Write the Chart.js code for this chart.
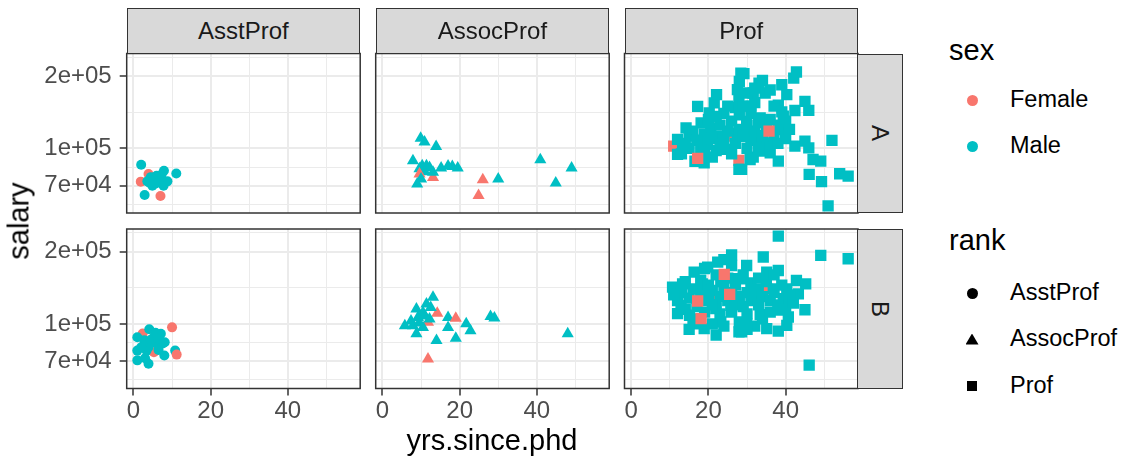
<!DOCTYPE html>
<html>
<head>
<meta charset="utf-8">
<script src="https://cdn.jsdelivr.net/npm/chart.js@4.4.1/dist/chart.umd.min.js"></script>
<style>
  body { margin: 0; background: #fff; font-family: "Liberation Sans", Arial, sans-serif; }
  #page { position: relative; width: 1122px; height: 458px; overflow: hidden; background: #fff; }
  canvas { position: absolute; }
  .strip { position: absolute; box-sizing: border-box; background: #D9D9D9; border: 1.5px solid #333;
           color: #1A1A1A; font-size: 24px; display: flex; align-items: center; justify-content: center; }
  .strip.side span { display: inline-block; transform: rotate(90deg); }
  .txt { position: absolute; white-space: nowrap; color: #000; }
  .key { position: absolute; }
</style>
</head>
<body>
<div id="page"></div>
<script>
// categories
const ranks = ['AsstProf', 'AssocProf', 'Prof'];
const disciplines = ['A', 'B'];
const sexes = ['Female', 'Male'];

// tick breaks and labels
const xMajor = [0, 20, 40];
const xMinor = [10, 30, 50];
const xLabels = ['0', '20', '40'];
const yMajor = [70000, 100000, 200000];
const yLabels = ['7e+04', '1e+05', '2e+05'];

// points: [yrs.since.phd, salary, sex]  (drawn in this order)
const asstA = [
  [1.9, 72800, 'F'], [3.9, 78300, 'F'],
  [2, 85500, 'M'], [2.9, 64100, 'M'], [4.9, 70000, 'M'], [3.6, 73000, 'M'], [5.3, 74500, 'M'],
  [6, 77000, 'M'], [7.8, 70000, 'M'], [8.8, 73000, 'M'], [7.9, 80800, 'M'], [11.1, 78700, 'M'],
  [4.5, 76000, 'M'], [6.8, 75500, 'M'], [5.8, 71500, 'M'], [7.3, 78000, 'M'], [4.2, 72000, 'M'],
  [7, 63500, 'F']
];
const asstB = [
  [2.4, 91200, 'F'], [5.3, 76300, 'F'],
  [1, 88000, 'M'], [4.1, 95000, 'M'], [7.1, 91000, 'M'], [8.1, 84000, 'M'], [1, 77500, 'M'],
  [1, 70600, 'M'], [3.9, 68300, 'M'], [8, 74000, 'M'], [10.8, 77500, 'M'], [3.4, 77500, 'M'],
  [5.3, 88000, 'M'], [6, 83000, 'M'], [5.4, 84000, 'M'], [3.9, 80000, 'M'], [2.8, 85500, 'M'],
  [7.6, 83000, 'M'], [5.7, 92000, 'M'], [4.5, 86000, 'M'], [6.5, 87000, 'M'], [2, 80000, 'M'],
  [3, 72000, 'M'], [6.5, 78000, 'M'],
  [10, 96800, 'F'], [11.2, 74600, 'F']
];
const assocA = [
  [9.9, 110400, 'M'], [10.9, 106500, 'M'], [13.9, 102000, 'M'], [7.9, 88900, 'M'], [10.3, 84700, 'M'],
  [11.4, 84700, 'M'], [12.2, 83400, 'M'], [15.2, 82900, 'M'], [18.1, 84200, 'M'], [19.5, 82900, 'M'],
  [9.6, 82400, 'M'], [17, 84500, 'M'], [11, 80000, 'M'],
  [9.6, 78300, 'F'], [13.1, 75800, 'F'],
  [13.1, 79600, 'M'], [10, 74600, 'M'], [9, 71100, 'M'], [30, 74600, 'M'], [40.9, 89700, 'M'],
  [49, 83000, 'M'], [44.9, 71800, 'M'],
  [26, 74100, 'F'], [24.9, 63700, 'F']
];
const assocB = [
  [14.2, 110700, 'F'], [11.8, 101600, 'F'],
  [13.1, 129000, 'M'], [11.4, 121000, 'M'], [8.8, 115400, 'M'], [10.5, 111700, 'M'], [17, 106500, 'M'],
  [9.2, 106500, 'M'], [12.2, 104800, 'M'], [5.8, 98400, 'M'], [7.9, 98400, 'M'], [10.5, 96700, 'M'],
  [8.8, 91000, 'M'], [17, 96700, 'M'], [21.7, 100100, 'M'], [22.8, 93800, 'M'], [28, 107300, 'M'],
  [29, 105800, 'M'], [14, 85300, 'M'], [19, 87300, 'M'], [48, 91000, 'M'], [7.4, 103000, 'M'],
  [12.5, 117000, 'M'], [9.5, 101000, 'M'], [11, 108000, 'M'],
  [19, 105500, 'F'], [11.8, 71600, 'F']
];
const profA = [
  [11, 102300, 'F'], [27.9, 89300, 'F'], [26.7, 112500, 'F'],
  [22.1, 167500, 'M'], [17.2, 149700, 'M'], [21.5, 154700, 'M'], [20.2, 140600, 'M'], [14.2, 121800, 'M'],
  [18.1, 127700, 'M'], [20.6, 121800, 'M'], [12, 109000, 'M'], [15, 112500, 'M'], [18.9, 109000, 'M'],
  [12, 94500, 'M'], [18.9, 87200, 'M'], [16.5, 88500, 'M'], [13.3, 102300, 'M'], [24.5, 99100, 'M'],
  [22.8, 112500, 'M'], [27.5, 116100, 'M'], [27.9, 81900, 'M'], [27.9, 162000, 'M'], [27.5, 175600, 'M'],
  [28.4, 205800, 'M'], [19.8, 104000, 'M'], [42.8, 207900, 'M'], [42.1, 196000, 'M'], [29.2, 204500, 'M'],
  [33.1, 186900, 'M'], [39, 184000, 'M'], [40.3, 167500, 'M'], [38.1, 151200, 'M'], [34.7, 170000, 'M'],
  [31.6, 170000, 'M'], [45, 157000, 'M'], [42.4, 143800, 'M'], [46, 144000, 'M'], [39.4, 136200, 'M'],
  [33.4, 134000, 'M'], [29.9, 129700, 'M'], [39, 119800, 'M'], [33.4, 110700, 'M'], [36.8, 105500, 'M'],
  [42.4, 102300, 'M'], [45, 107200, 'M'], [46, 100600, 'M'], [52, 108000, 'M'], [47.1, 90000, 'M'],
  [49.1, 88600, 'M'], [38.1, 88600, 'M'], [30.8, 90000, 'M'], [28.6, 81900, 'M'], [46.1, 78000, 'M'],
  [54, 78500, 'M'], [56.2, 76800, 'M'], [49.3, 72800, 'M'], [51, 57700, 'M'], [33.4, 97500, 'M'],
  [31.6, 92000, 'M'], [35.2, 103000, 'M'], [29.9, 118000, 'M'], [14, 105000, 'M'], [16, 118000, 'M'],
  [18, 100000, 'M'], [19, 115000, 'M'], [20, 132000, 'M'], [21, 110000, 'M'], [22, 98000, 'M'],
  [23, 125000, 'M'], [24, 140000, 'M'], [24, 108000, 'M'], [25, 118000, 'M'], [26, 95000, 'M'],
  [26, 130000, 'M'], [27, 148000, 'M'], [27, 105000, 'M'], [28, 120000, 'M'], [28, 138000, 'M'],
  [29, 112000, 'M'], [29, 150000, 'M'], [30, 100000, 'M'], [30, 125000, 'M'], [31, 140000, 'M'],
  [31, 108000, 'M'], [32, 118000, 'M'], [32, 155000, 'M'], [33, 128000, 'M'], [33, 100000, 'M'],
  [31, 150000, 'M'], [34, 113000, 'M'], [35, 122000, 'M'], [36, 132000, 'M'], [36, 96000, 'M'],
  [37, 115000, 'M'], [37, 150000, 'M'], [38, 125000, 'M'], [38, 105000, 'M'], [39, 142000, 'M'],
  [40, 110000, 'M'], [40, 130000, 'M'], [41, 120000, 'M'], [13, 95000, 'M'], [15, 100000, 'M'],
  [17, 108000, 'M'], [21, 92000, 'M'], [23, 104000, 'M'], [25, 150000, 'M'], [22, 136000, 'M'],
  [19, 97000, 'M'], [30, 170000, 'M'], [32, 178000, 'M'], [36, 175000, 'M'], [28, 190000, 'M'],
  [34, 192000, 'M'],
  [17.2, 91000, 'F'], [35.7, 118000, 'F']
];
const profB = [
  [21.1, 126000, 'F'], [35.1, 140000, 'F'],
  [26, 193800, 'M'], [22.4, 180800, 'M'], [19.8, 172300, 'M'], [16.3, 164300, 'M'], [13.3, 146800, 'M'],
  [10.7, 142300, 'M'], [27, 154300, 'M'], [18.4, 146800, 'M'], [12.9, 119500, 'M'], [12, 110400, 'M'],
  [18.9, 95700, 'M'], [23.2, 102000, 'M'], [27.9, 92700, 'M'], [15.1, 108700, 'M'], [21.9, 115800, 'M'],
  [25.8, 119500, 'M'], [19.8, 133300, 'M'], [23.2, 150000, 'M'], [38.1, 231600, 'M'], [49.1, 192600, 'M'],
  [56.2, 186600, 'M'], [34.2, 189800, 'M'], [29.9, 175000, 'M'], [38.1, 166800, 'M'], [35.1, 164300, 'M'],
  [42.8, 151600, 'M'], [45.2, 146800, 'M'], [32.9, 140000, 'M'], [36.8, 140000, 'M'], [40.3, 140000, 'M'],
  [43.3, 133300, 'M'], [32.1, 127400, 'M'], [39.4, 127400, 'M'], [41.1, 125600, 'M'], [45, 114600, 'M'],
  [38.1, 114300, 'M'], [33.4, 109400, 'M'], [40.7, 106900, 'M'], [29.9, 100300, 'M'], [35.1, 95700, 'M'],
  [38.1, 93300, 'M'], [40.3, 98600, 'M'], [28.6, 92700, 'M'], [46.1, 67400, 'M'], [28.6, 154000, 'M'],
  [12, 125000, 'M'], [13, 135000, 'M'], [14, 115000, 'M'], [15, 128000, 'M'], [16, 140000, 'M'],
  [16, 105000, 'M'], [17, 118000, 'M'], [18, 135000, 'M'], [18, 152000, 'M'], [19, 112000, 'M'],
  [20, 125000, 'M'], [20, 145000, 'M'], [21, 100000, 'M'], [21, 138000, 'M'], [22, 120000, 'M'],
  [22, 160000, 'M'], [23, 130000, 'M'], [23, 110000, 'M'], [24, 142000, 'M'], [24, 98000, 'M'],
  [25, 125000, 'M'], [25, 155000, 'M'], [26, 112000, 'M'], [26, 135000, 'M'], [27, 120000, 'M'],
  [27, 145000, 'M'], [28, 102000, 'M'], [28, 130000, 'M'], [29, 118000, 'M'], [29, 160000, 'M'],
  [30, 135000, 'M'], [30, 110000, 'M'], [31, 125000, 'M'], [31, 148000, 'M'], [32, 98000, 'M'],
  [32, 138000, 'M'], [33, 120000, 'M'], [33, 155000, 'M'], [34, 130000, 'M'], [34, 105000, 'M'],
  [35, 150000, 'M'], [36, 125000, 'M'], [36, 112000, 'M'], [37, 135000, 'M'], [37, 160000, 'M'],
  [38, 120000, 'M'], [39, 145000, 'M'], [40, 115000, 'M'], [41, 132000, 'M'], [42, 122000, 'M'],
  [14, 150000, 'M'], [19, 170000, 'M'], [21, 120000, 'M'], [24, 185000, 'M'], [26, 175000, 'M'],
  [17, 100000, 'M'], [11, 132000, 'M'], [15, 95000, 'M'], [22, 90000, 'M'], [30, 95000, 'M'],
  [24.1, 160600, 'F'], [17.2, 124600, 'F'], [25.5, 132700, 'F'], [18.1, 105300, 'F']
];

const panelData = [[asstA, assocA, profA], [asstB, assocB, profB]];

const FEMALE = '#F8766D';
const MALE = '#00BFC4';
const shapes = ['circle', 'triangle', 'rect'];
const radii = [5, 7, 8];
const FONT = '"Liberation Sans", Arial, sans-serif';

// layout of the facet grid (pixels)
const colLeft = [126.7, 375.7, 624.5];
const colW = 233.5;
const rowTop = [53.5, 229];
const rowH = 159.5;
const W = 1122, H = 458;

// ggplot-style minor breaks on the log axis: midpoints in log space
const lm = yMajor.map(Math.log10);
const d0 = lm[1] - lm[0];
const ext = [lm[0] - d0, ...lm, lm[lm.length - 1] + d0];
const yMinor = [];
for (let i = 0; i < ext.length - 1; i++) yMinor.push(Math.pow(10, (ext[i] + ext[i + 1]) / 2));

const page = document.getElementById('page');

const panelBorder = {
  id: 'panelBorder',
  afterDatasetsDraw(chart) {
    const a = chart.chartArea, c = chart.ctx;
    c.save();
    c.strokeStyle = '#333333';
    c.lineWidth = 1.5;
    c.strokeRect(a.left, a.top, a.right - a.left, a.bottom - a.top);
    c.restore();
  }
};

function noPad(s) { s.paddingLeft = s.paddingRight = s.paddingTop = s.paddingBottom = 0; }

function makePanel(r, c) {
  const left = c === 0 ? 0 : Math.floor(colLeft[c]) - 3;
  const right = Math.ceil(colLeft[c] + colW) + 3;
  const top = Math.floor(rowTop[r]) - 3;
  const bottom = r === 1 ? H : Math.ceil(rowTop[r] + rowH) + 3;
  const cv = document.createElement('canvas');
  cv.width = right - left; cv.height = bottom - top;
  cv.style.left = left + 'px'; cv.style.top = top + 'px';
  cv.style.width = cv.width + 'px'; cv.style.height = cv.height + 'px';
  page.appendChild(cv);

  const showY = c === 0, showX = r === 1;
  const pts = panelData[r][c].map(p => ({ x: p[0], y: p[1], s: p[2] }));

  new Chart(cv, {
    type: 'scatter',
    data: {
      datasets: [{
        data: pts,
        pointStyle: shapes[c],
        pointRadius: radii[c],
        pointBorderWidth: 0,
        pointBackgroundColor: ctx => (ctx.raw && ctx.raw.s === 'F') ? FEMALE : MALE,
        clip: 0
      }]
    },
    options: {
      responsive: false,
      animation: false,
      events: [],
      layout: {
        autoPadding: false,
        padding: {
          left: showY ? 0 : colLeft[c] - left,
          right: right - (colLeft[c] + colW),
          top: rowTop[r] - top,
          bottom: showX ? 0 : bottom - (rowTop[r] + rowH)
        }
      },
      plugins: { legend: { display: false }, tooltip: { enabled: false } },
      scales: {
        x: {
          type: 'linear',
          min: -1.75, max: 58.75,
          afterBuildTicks: s => { s.ticks = [...xMajor, ...xMinor].sort((a, b) => a - b).map(v => ({ value: v })); },
          afterFit: s => { s.height = showX ? H - (rowTop[1] + rowH) : 0; noPad(s); },
          border: { display: false },
          grid: {
            color: '#EBEBEB',
            lineWidth: ctx => xMajor.includes(ctx.tick && ctx.tick.value) ? 2 : 1,
            drawTicks: showX,
            tickLength: 7,
            tickWidth: 1.5,
            tickColor: ctx => xMajor.includes(ctx.tick && ctx.tick.value) ? '#333333' : 'rgba(0,0,0,0)'
          },
          ticks: {
            display: showX,
            autoSkip: false,
            maxRotation: 0,
            padding: 1.5,
            color: '#4D4D4D',
            font: { family: FONT, size: 24 },
            callback: v => { const i = xMajor.indexOf(v); return i >= 0 ? xLabels[i] : ''; }
          }
        },
        y: {
          type: 'logarithmic',
          min: 53930, max: 248100,
          afterBuildTicks: s => { s.ticks = [...yMajor, ...yMinor].sort((a, b) => a - b).map(v => ({ value: v })); },
          afterFit: s => { s.width = showY ? colLeft[0] : 0; noPad(s); },
          border: { display: false },
          grid: {
            color: '#EBEBEB',
            lineWidth: ctx => yMajor.includes(ctx.tick && ctx.tick.value) ? 2 : 1,
            drawTicks: showY,
            tickLength: 7,
            tickWidth: 1.5,
            tickColor: ctx => yMajor.includes(ctx.tick && ctx.tick.value) ? '#333333' : 'rgba(0,0,0,0)'
          },
          ticks: {
            display: showY,
            autoSkip: false,
            padding: 8,
            color: '#4D4D4D',
            font: { family: FONT, size: 24 },
            callback: v => { const i = yMajor.indexOf(v); return i >= 0 ? yLabels[i] : ''; }
          }
        }
      }
    },
    plugins: [panelBorder]
  });
}

for (let r = 0; r < 2; r++) for (let c = 0; c < 3; c++) makePanel(r, c);

// facet strips
function addDiv(cls, css, html) {
  const d = document.createElement('div');
  d.className = cls;
  Object.assign(d.style, css);
  d.innerHTML = html;
  page.appendChild(d);
  return d;
}
ranks.forEach((name, c) => addDiv('strip', {
  left: colLeft[c] + 'px', top: '8.3px', width: colW + 'px', height: (rowTop[0] - 8.3 + 0.8) + 'px'
}, name));
disciplines.forEach((name, r) => addDiv('strip side', {
  left: (colLeft[2] + colW - 0.8) + 'px', top: rowTop[r] + 'px', width: '46px', height: rowH + 'px'
}, '<span>' + name + '</span>'));

// axis titles
addDiv('txt', { left: '492px', top: '425.5px', fontSize: '29px', lineHeight: '29px', transform: 'translateX(-50%)' }, 'yrs.since.phd');
addDiv('txt', { left: '18.5px', top: '221px', fontSize: '29px', lineHeight: '29px', transform: 'translate(-50%,-50%) rotate(-90deg)' }, 'salary');

// legends
addDiv('txt', { left: '949px', top: '35.5px', fontSize: '29px', lineHeight: '29px' }, 'sex');
addDiv('txt', { left: '949px', top: '226px', fontSize: '29px', lineHeight: '29px' }, 'rank');
const sexColors = [FEMALE, MALE];
const sexY = [100, 146];
sexes.forEach((s, i) => {
  addDiv('key', { left: '966.5px', top: (sexY[i] - 5.5) + 'px', width: '11px', height: '11px', borderRadius: '50%', background: sexColors[i] }, '');
  addDiv('txt', { left: '1010px', top: (sexY[i] - 11.75) + 'px', fontSize: '23.5px', lineHeight: '23.5px' }, s);
});
const rankY = [293, 339, 386];
const keyCss = [
  { width: '11px', height: '11px', borderRadius: '50%' },
  { width: '13px', height: '11px', clipPath: 'polygon(50% 0, 100% 100%, 0 100%)' },
  { width: '10px', height: '10px' }
];
ranks.forEach((s, i) => {
  const k = keyCss[i];
  addDiv('key', Object.assign({ left: (972 - parseFloat(k.width) / 2) + 'px', top: (rankY[i] - parseFloat(k.height) / 2) + 'px', background: '#000' }, k), '');
  addDiv('txt', { left: '1010px', top: (rankY[i] - 11.75) + 'px', fontSize: '23.5px', lineHeight: '23.5px' }, s);
});
</script>
</body>
</html>
